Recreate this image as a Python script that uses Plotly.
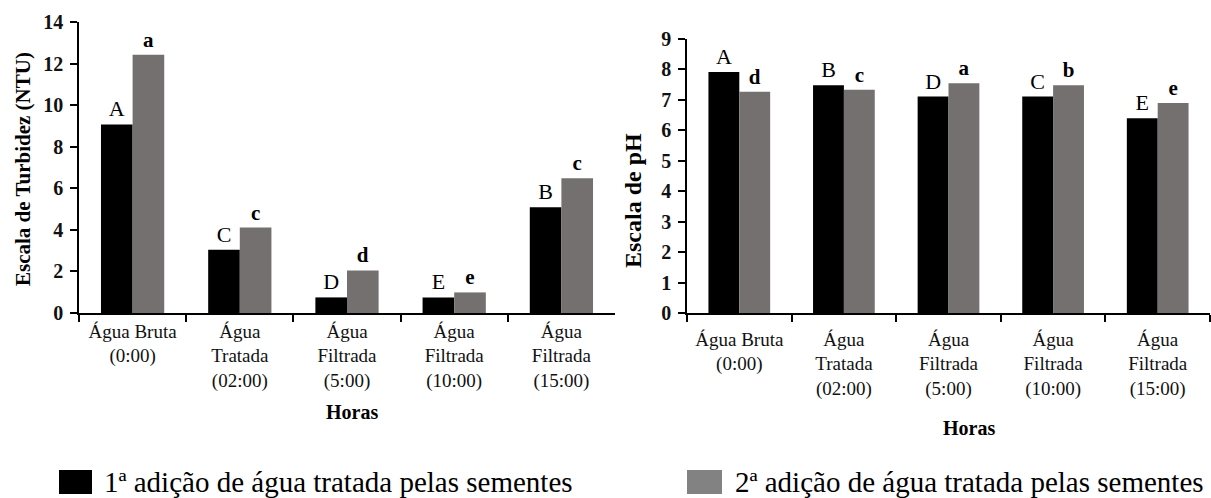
import plotly.graph_objects as go

W, H = 1211, 498

categories = ["Água Bruta<br>(0:00)", "Água<br>Tratada<br>(02:00)", "Água<br>Filtrada<br>(5:00)",
              "Água<br>Filtrada<br>(10:00)", "Água<br>Filtrada<br>(15:00)"]

turb_1 = [9.07, 3.04, 0.75, 0.75, 5.09]
turb_2 = [12.43, 4.11, 2.05, 0.99, 6.48]
turb_letters_1 = ["A", "C", "D", "E", "B"]
turb_letters_2 = ["a", "c", "d", "e", "c"]

ph_1 = [7.92, 7.48, 7.11, 7.11, 6.40]
ph_2 = [7.27, 7.33, 7.55, 7.48, 6.90]
ph_letters_1 = ["A", "B", "D", "C", "E"]
ph_letters_2 = ["d", "c", "a", "b", "e"]

series_names = ["1ª adição de água tratada pelas sementes", "2ª adição de água tratada pelas sementes"]
bar_colors = ["#000000", "#747070"]
legend_colors = ["#000000", "#828282"]

SERIF = "Liberation Serif"

def px_x(p):
    return p / W

def px_y(p):
    return (H - p) / H

fig = go.Figure()

upper_font = dict(family=SERIF, size=22, color="black")
lower_font = dict(family=SERIF, size=21, color="black", weight="bold")

for vals, letters, col, fnt, xa, ya in [
    (turb_1, turb_letters_1, bar_colors[0], upper_font, "x", "y"),
    (turb_2, turb_letters_2, bar_colors[1], lower_font, "x", "y"),
    (ph_1, ph_letters_1, bar_colors[0], upper_font, "x2", "y2"),
    (ph_2, ph_letters_2, bar_colors[1], lower_font, "x2", "y2"),
]:
    fig.add_trace(go.Bar(
        x=categories, y=vals, text=letters, textposition="outside",
        textfont=fnt, marker=dict(color=col, line=dict(width=0)),
        cliponaxis=False, xaxis=xa, yaxis=ya, showlegend=False,
        hoverinfo="x+y",
    ))

axis_common_x = dict(
    type="category", showline=True, linecolor="black", linewidth=1.5,
    ticks="outside", tickson="boundaries", ticklen=7, tickcolor="black", tickwidth=1.5,
    showgrid=False, zeroline=False,
    tickfont=dict(family=SERIF, size=19, color="#111111"),
    fixedrange=True,
)
axis_common_y = dict(
    showline=True, linecolor="black", linewidth=1.5,
    ticks="outside", ticklen=7, tickcolor="black", tickwidth=1.5,
    showgrid=False, zeroline=False,
    tickfont=dict(family=SERIF, size=20, color="#111111", weight="bold"),
    fixedrange=True, ticklabelstandoff=3,
)

fig.update_layout(
    width=W, height=H,
    margin=dict(l=0, r=0, t=0, b=0, autoexpand=False),
    paper_bgcolor="white", plot_bgcolor="white",
    barmode="group", bargap=0.41, bargroupgap=0,
    showlegend=False,
    xaxis=dict(axis_common_x, domain=[px_x(79), px_x(615)], anchor="y"),
    yaxis=dict(axis_common_y, domain=[px_y(313), px_y(22)], range=[0, 14], dtick=2, anchor="x"),
    xaxis2=dict(axis_common_x, domain=[px_x(687), px_x(1210)], anchor="y2", ticklabelstandoff=8),
    yaxis2=dict(axis_common_y, domain=[px_y(313), px_y(39)], range=[0, 9], dtick=1, anchor="x2"),
)

# y-axis titles
for xc, yc, txt, size in [(23, 169, "Escala de Turbidez (NTU)", 21), (633, 201, "Escala de pH", 24)]:
    fig.add_annotation(x=px_x(xc), y=px_y(yc), xref="paper", yref="paper",
                       text=txt, textangle=-90, showarrow=False,
                       xanchor="center", yanchor="middle",
                       font=dict(family=SERIF, size=size, color="black", weight="bold"))

# x-axis titles "Horas"
for xc, yc in [(352, 412), (969, 428)]:
    fig.add_annotation(x=px_x(xc), y=px_y(yc), xref="paper", yref="paper",
                       text="Horas", showarrow=False, xanchor="center", yanchor="middle",
                       font=dict(family=SERIF, size=20, color="black", weight="bold"))

# legend
legend_items = [(59, 92, 102), (687, 722, 733)]
for (x0, x1, tx), name, col in zip(legend_items, series_names, legend_colors):
    fig.add_shape(type="rect", xref="paper", yref="paper",
                  x0=px_x(x0), x1=px_x(x1), y0=px_y(494), y1=px_y(470),
                  fillcolor=col, line=dict(width=0))
    fig.add_annotation(x=px_x(tx), y=px_y(482), xref="paper", yref="paper",
                       text=name, showarrow=False, xanchor="left", yanchor="middle",
                       font=dict(family=SERIF, size=29, color="black"))

fig.write_html("out.html", config={"displayModeBar": False},
               post_script="document.body.style.margin='0px';")
